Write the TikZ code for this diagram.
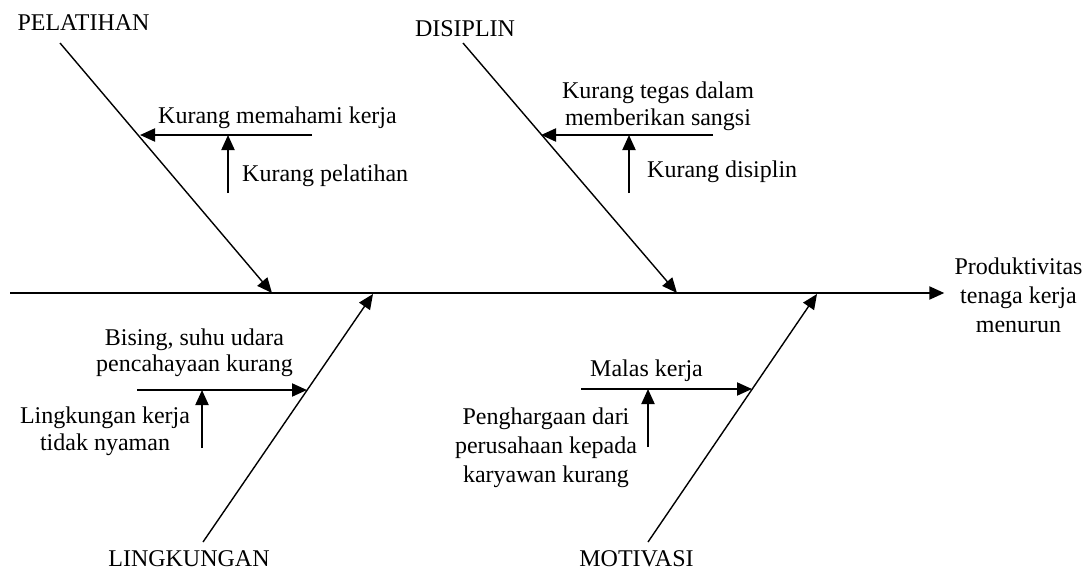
\documentclass[tikz,border=0pt]{standalone}
\usepackage{fontspec}
\setmainfont{Liberation Serif}
\usetikzlibrary{arrows.meta}
\begin{document}
\begin{tikzpicture}[x=1pt,y=-1pt,
  txt/.style={font=\fontsize{24}{28}\selectfont, inner sep=0pt, align=center},
  lead/.style={font=\fontsize{24}{#1}\selectfont},
  head/.style={-{Triangle[length=15pt,width=13pt]}},
  spine/.style={line width=2.2pt, head},
  bone/.style={line width=1.4pt, head},
  cause/.style={line width=2pt, head}]
\useasboundingbox (0,0) rectangle (1090,570);

% effect and main categories
\node[txt, lead=29] (eff) at (1018.5,294.8) {Produktivitas\\tenaga kerja\\menurun};
\node[txt, anchor=base] (pel) at (83.5,30.5) {PELATIHAN};
\node[txt, anchor=base] (dis) at (465,36.7) {DISIPLIN};
\node[txt, anchor=base] (lin) at (189,566.5) {LINGKUNGAN};
\node[txt, anchor=base] (mot) at (636.5,566.5) {MOTIVASI};

% spine
\coordinate (s0) at (10,293);
\draw[spine] (s0) -- ([xshift=-10pt]s0 -| eff.west);

% bone end points
\coordinate (pa) at (60,43);   \coordinate (pb) at (272,293);
\coordinate (da) at (463,43);  \coordinate (db) at (677,293);
\coordinate (la) at (203,542); \coordinate (lb) at (373,294);
\coordinate (ma) at (648,542); \coordinate (mb) at (817,294);
\draw[bone] (pa) -- (pb);
\draw[bone] (da) -- (db);
\draw[bone] (la) -- (lb);
\draw[bone] (ma) -- (mb);

% PELATIHAN causes
\node[txt, anchor=base west] (k1) at (158,123) {Kurang memahami kerja};
\node[txt, anchor=base west] (k2) at (242,181) {Kurang pelatihan};
\coordinate (k1a) at (312,135); \coordinate (k1b) at (140,135);
\coordinate (k2a) at (228,193); \coordinate (k2b) at (228,135);
\draw[cause] (k1a) -- (k1b);
\draw[cause] (k2a) -- (k2b);

% DISIPLIN causes
\node[txt, lead=27] (d1) at (658,106) {Kurang tegas dalam\\memberikan sangsi};
\node[txt, anchor=base west] (d2) at (647,177) {Kurang disiplin};
\coordinate (d1a) at (713,135); \coordinate (d1b) at (541,135);
\coordinate (d2a) at (629,193); \coordinate (d2b) at (629,135);
\draw[cause] (d1a) -- (d1b);
\draw[cause] (d2a) -- (d2b);

% LINGKUNGAN causes
\node[txt, lead=26.5] (l1) at (194.5,353) {Bising, suhu udara\\pencahayaan kurang};
\node[txt, lead=26.5] (l2) at (105,431.5) {Lingkungan kerja\\tidak nyaman};
\coordinate (l1a) at (137,390); \coordinate (l1b) at (307,390);
\coordinate (l2a) at (202,448); \coordinate (l2b) at (202,390);
\draw[cause] (l1a) -- (l1b);
\draw[cause] (l2a) -- (l2b);

% MOTIVASI causes
\node[txt, anchor=base west] (m1) at (590,376.5) {Malas kerja};
\node[txt, lead=29] (m2) at (546,448) {Penghargaan dari\\perusahaan kepada\\karyawan kurang};
\coordinate (m1a) at (581,389); \coordinate (m1b) at (752,389);
\coordinate (m2a) at (648,447); \coordinate (m2b) at (648,389);
\draw[cause] (m1a) -- (m1b);
\draw[cause] (m2a) -- (m2b);
\end{tikzpicture}
\end{document}
